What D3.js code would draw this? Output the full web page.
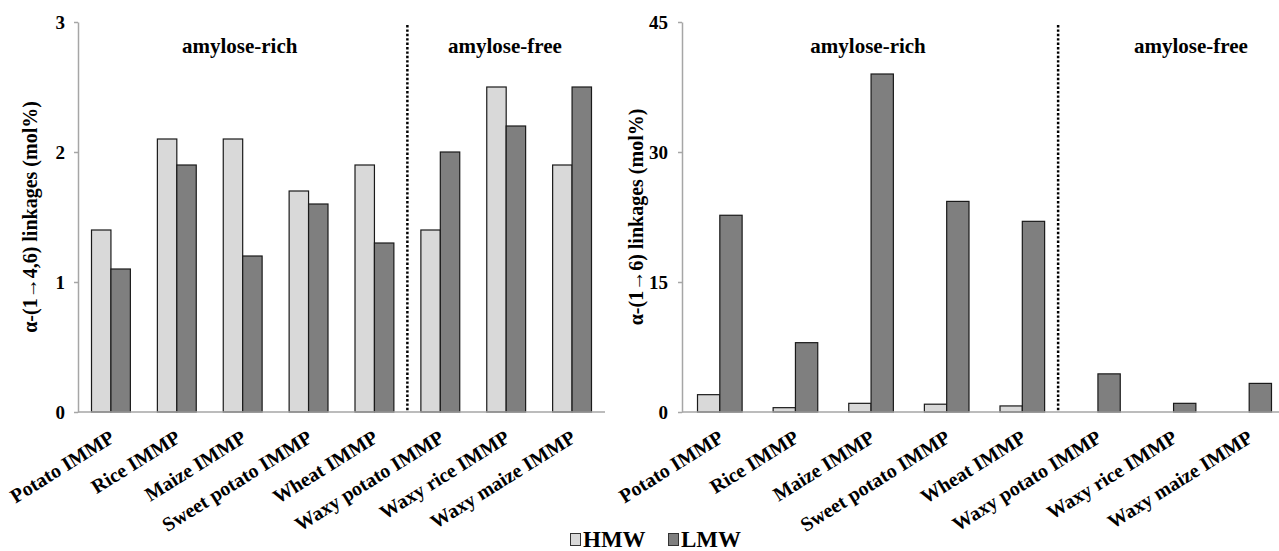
<!DOCTYPE html>
<html>
<head>
<meta charset="utf-8">
<script src="https://cdn.jsdelivr.net/npm/d3@7"></script>
<style>
  html, body { margin: 0; padding: 0; background: #fff; }
  svg { display: block; }
  svg text { font-family: "Liberation Serif", Tinos, "Times New Roman", Times, serif; font-weight: bold; fill: #000; }
</style>
</head>
<body>
<script>
// Starch sample names (x categories) and the two molecular-weight fractions
const categories = ["Potato IMMP", "Rice IMMP", "Maize IMMP", "Sweet potato IMMP",
                    "Wheat IMMP", "Waxy potato IMMP", "Waxy rice IMMP", "Waxy maize IMMP"];
const fractions = ["HMW", "LMW"];

// α-(1→4,6) linkages, mol%
const branch46HMW = [1.4, 2.1, 2.1, 1.7, 1.9, 1.4, 2.5, 1.9];
const branch46LMW = [1.1, 1.9, 1.2, 1.6, 1.3, 2.0, 2.2, 2.5];

// α-(1→6) linkages, mol%
const link16HMW = [2.0, 0.5, 1.0, 0.9, 0.7, 0, 0, 0];
const link16LMW = [22.7, 8.0, 39.0, 24.3, 22.0, 4.4, 1.0, 3.3];

// Axis ticks
const ticks46 = [0, 1, 2, 3];
const ticks16 = [0, 15, 30, 45];

// Group headings; the first five samples are amylose-rich
const groupNames = ["amylose-rich", "amylose-free"];
const richCount = 5;

const W = 1279, H = 551;
const FONT = "'Liberation Serif', Tinos, 'Times New Roman', Times, serif";
const colors = { HMW: "#d9d9d9", LMW: "#7f7f7f" };

const svg = d3.select("body").append("svg")
  .attr("width", W).attr("height", H)
  .attr("font-family", FONT)
  .attr("font-weight", "bold");

function drawPanel(cfg) {
  const g = svg.append("g");

  const x = d3.scaleBand()
    .domain(categories)
    .range([cfg.x0, cfg.x1])
    .paddingInner(0.41)
    .paddingOuter(0.205);

  const xs = d3.scaleBand()
    .domain(fractions)
    .range([0, x.bandwidth()]);

  const y = d3.scaleLinear()
    .domain([0, cfg.ticks[cfg.ticks.length - 1]])
    .range([cfg.yBase, cfg.yTop]);

  // Bars
  const rows = categories.map((c, i) => ({
    cat: c,
    vals: fractions.map(f => ({ key: f, value: cfg.values[f][i] }))
  }));

  g.append("g").selectAll("g")
    .data(rows)
    .join("g")
      .attr("transform", d => `translate(${x(d.cat)},0)`)
    .selectAll("rect")
    .data(d => d.vals.filter(v => v.value > 0))
    .join("rect")
      .attr("x", d => xs(d.key))
      .attr("y", d => y(d.value))
      .attr("width", xs.bandwidth())
      .attr("height", d => y(0) - y(d.value))
      .attr("fill", d => colors[d.key])
      .attr("stroke", "#1a1a1a")
      .attr("stroke-width", 1.2);

  // Baseline
  g.append("line")
    .attr("x1", cfg.x0).attr("x2", Math.min(cfg.x1, W))
    .attr("y1", y(0)).attr("y2", y(0))
    .attr("stroke", "#a6a6a6").attr("stroke-width", 1.5);

  // Y axis
  const yAxis = d3.axisLeft(y)
    .tickValues(cfg.ticks)
    .tickSize(4)
    .tickSizeOuter(0)
    .tickPadding(cfg.tickPad)
    .tickFormat(d3.format("d"));
  const ya = g.append("g")
    .attr("transform", `translate(${cfg.x0},0)`)
    .call(yAxis)
    .attr("font-family", FONT)
    .attr("font-weight", "bold")
    .attr("font-size", 19);
  ya.select(".domain").attr("stroke", "#a6a6a6").attr("stroke-width", 1.5);
  ya.selectAll(".tick line").attr("stroke", "#a6a6a6").attr("stroke-width", 1.5);
  ya.selectAll(".tick text").attr("fill", "#000");

  // Y axis title
  g.append("text")
    .attr("transform", `translate(${cfg.titleX},${(cfg.yTop + cfg.yBase) / 2}) rotate(-90)`)
    .attr("text-anchor", "middle")
    .attr("font-size", 20)
    .text(cfg.title);

  // Category labels
  g.append("g").selectAll("text")
    .data(categories)
    .join("text")
      .attr("transform", d => `translate(${x(d) + x.bandwidth() / 2 + 5},${cfg.yBase + 29}) rotate(-32)`)
      .attr("text-anchor", "end")
      .attr("font-size", 20)
      .text(d => d);

  // Divider between amylose-rich and amylose-free samples
  const divX = cfg.x0 + x.step() * richCount + cfg.divShift;
  g.append("line")
    .attr("x1", divX).attr("x2", divX)
    .attr("y1", cfg.yTop + 3).attr("y2", y(0))
    .attr("stroke", "#000")
    .attr("stroke-width", 2.5)
    .attr("stroke-dasharray", "2.4,2");

  // Group headings
  const richX = cfg.x0 + x.step() * richCount / 2;
  g.append("text")
    .attr("x", richX - 3).attr("y", 53)
    .attr("text-anchor", "middle")
    .attr("font-size", 21)
    .text(groupNames[0]);
  g.append("text")
    .attr("x", cfg.freeX).attr("y", 53)
    .attr("text-anchor", "middle")
    .attr("font-size", 21)
    .text(groupNames[1]);
}

drawPanel({
  x0: 78, x1: 605, yTop: 22, yBase: 412,
  ticks: ticks46, tickPad: 9,
  values: { HMW: branch46HMW, LMW: branch46LMW },
  title: "α-(1→4,6) linkages (mol%)", titleX: 37,
  divShift: 0, freeX: 505
});

drawPanel({
  x0: 682, x1: 1287, yTop: 22, yBase: 412,
  ticks: ticks16, tickPad: 10,
  values: { HMW: link16HMW, LMW: link16LMW },
  title: "α-(1→6) linkages (mol%)", titleX: 643,
  divShift: -2, freeX: 1191
});

// Legend
const legend = svg.append("g").attr("transform", "translate(570,547)");
const items = legend.selectAll("g")
  .data(fractions)
  .join("g")
    .attr("transform", (d, i) => `translate(${i * 98},0)`);
items.append("rect")
  .attr("x", 0.5).attr("y", -13.5)
  .attr("width", 10).attr("height", 12)
  .attr("fill", d => colors[d])
  .attr("stroke", "#333").attr("stroke-width", 1);
items.append("text")
  .attr("x", 13).attr("y", 0)
  .attr("font-size", 23)
  .text(d => d);
</script>
</body>
</html>
